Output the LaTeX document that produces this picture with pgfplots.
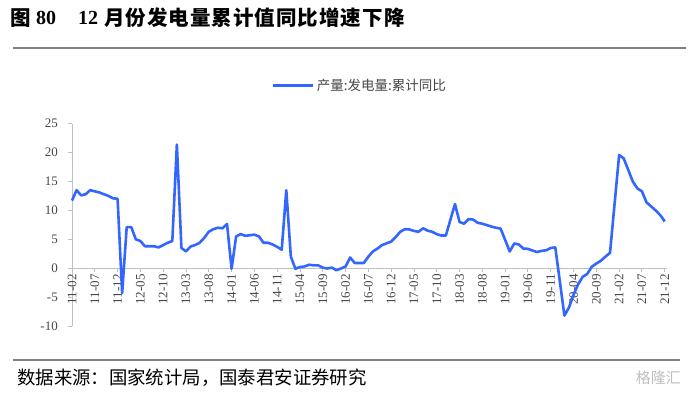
\documentclass[border=0pt]{standalone}
\usepackage{pgfplots}
\pgfplotsset{compat=1.18}
\usepackage{fontspec}
\setmainfont{Liberation Serif}
\newfontfamily\cjk{Noto Sans CJK SC}
\definecolor{lineblue}{RGB}{51,102,255}
\definecolor{axgray}{RGB}{191,191,191}
\definecolor{txtgray}{RGB}{70,70,70}
\definecolor{rulegray}{RGB}{128,128,128}
\pgfplotstableread{
i v
0 11.7
1 13.5
2 12.6
3 12.8
4 13.5
5 13.3
6 13.1
7 12.8
8 12.5
9 12.1
10 12.0
11 -4.3
12 7.1
13 7.1
14 5.0
15 4.7
16 3.8
17 3.8
18 3.8
19 3.6
20 4.0
21 4.4
22 4.7
23 21.4
24 3.5
25 2.9
26 3.75
27 4.0
28 4.4
29 5.25
30 6.3
31 6.75
32 7.0
33 6.9
34 7.65
35 -0.1
36 5.5
37 5.9
38 5.6
39 5.7
40 5.8
41 5.5
42 4.4
43 4.4
44 4.1
45 3.7
46 3.2
47 13.5
48 2.0
49 -0.1
50 0.2
51 0.3
52 0.6
53 0.5
54 0.5
55 0.1
56 -0.05
57 0.1
58 -0.35
59 -0.05
60 0.3
61 1.85
62 0.9
63 0.9
64 0.9
65 2.0
66 2.9
67 3.4
68 4.0
69 4.3
70 4.6
71 5.4
72 6.3
73 6.75
74 6.7
75 6.45
76 6.3
77 6.9
78 6.5
79 6.3
80 5.9
81 5.65
82 5.65
83 8.4
84 11.1
85 8.0
86 7.7
87 8.5
88 8.4
89 7.85
90 7.7
91 7.45
92 7.2
93 7.0
94 6.85
95 4.9
96 2.9
97 4.27
98 4.1
99 3.4
100 3.35
101 3.05
102 2.8
103 3.0
104 3.1
105 3.5
106 3.6
107 -2.3
108 -8.2
109 -6.8
110 -4.6
111 -2.8
112 -1.5
113 -1.0
114 0.25
115 0.8
116 1.3
117 2.0
118 2.65
119 11.1
120 19.6
121 19.0
122 17.0
123 15.0
124 13.8
125 13.3
126 11.4
127 10.7
128 10.0
129 9.2
130 8.1
}\gendata
\begin{document}
\begin{tikzpicture}
\useasboundingbox (0pt,0pt) rectangle (689pt,-393pt);
\node[anchor=west,inner sep=0] at (10.7pt,-18pt) {\cjk\bfseries\fontsize{20.5}{20.5}\selectfont 图};
\node[anchor=west,inner sep=0] at (36pt,-18pt) {\bfseries\fontsize{20}{20}\selectfont 80};
\node[anchor=west,inner sep=0] at (78pt,-18pt) {\bfseries\fontsize{20}{20}\selectfont 12};
\node[anchor=west,inner sep=0] at (104pt,-18pt) {\cjk\bfseries\fontsize{20.5}{20.5}\selectfont\addfontfeature{LetterSpace=5} 月份发电量累计值同比增速下降};
\draw[rulegray, line width=2pt] (13pt,-47.7pt) -- (686pt,-47.7pt);
\draw[rulegray, line width=2pt] (13pt,-360.3pt) -- (680pt,-360.3pt);
\node[anchor=west,inner sep=0] at (17pt,-378pt) {\cjk\fontsize{18.4}{18.4}\selectfont 数据来源：国家统计局，国泰君安证券研究};
\node[anchor=east,inner sep=0,text=black!25] at (681pt,-378pt) {\cjk\fontsize{15}{15}\selectfont 格隆汇};
\begin{axis}[
  at={(72pt,-326pt)}, anchor=south west, scale only axis,
  width=595pt, height=202.3pt,
  xmin=0, xmax=130.5, ymin=-10, ymax=25,
  axis x line*=middle, axis y line*=left,
  hide obscured x ticks=false,
  hide obscured y ticks=false,
  axis line style={axgray, line width=0.9pt},
  tick style={axgray, line width=0.9pt},
  tick align=outside,
  major tick length=4pt,
  xtick={0,5,...,130},
  xticklabels={11-02,11-07,11-12,12-05,12-10,13-03,13-08,14-01,14-06,14-11,15-04,15-09,16-02,16-07,16-12,17-05,17-10,18-03,18-08,19-01,19-06,19-11,20-04,20-09,21-02,21-07,21-12},
  ytick={-10,-5,0,5,10,15,20,25},
  yticklabels={-10,-5,0,5,10,15,20,25},
  xticklabel style={rotate=90, anchor=east, font=\fontsize{13}{13}\selectfont, text=txtgray, inner sep=2pt},
  yticklabel style={anchor=east, font=\fontsize{13}{13}\selectfont, text=txtgray, inner sep=0pt, xshift=-10pt},
  legend style={at={(axis description cs:0.484,1.188)}, anchor=center, draw=none, fill=none,
    font=\cjk\fontsize{13.5}{13.5}\selectfont, text=txtgray, inner sep=0pt},
  legend image code/.code={\draw[#1, line width=2.6pt] (0pt,0pt) -- (40pt,0pt);},
  clip=false,
]
\addplot[lineblue, line width=2.6pt, line join=round] table[x=i, y=v] {\gendata};
\addlegendentry{产量:发电量:累计同比}
\end{axis}
\end{tikzpicture}
\end{document}
